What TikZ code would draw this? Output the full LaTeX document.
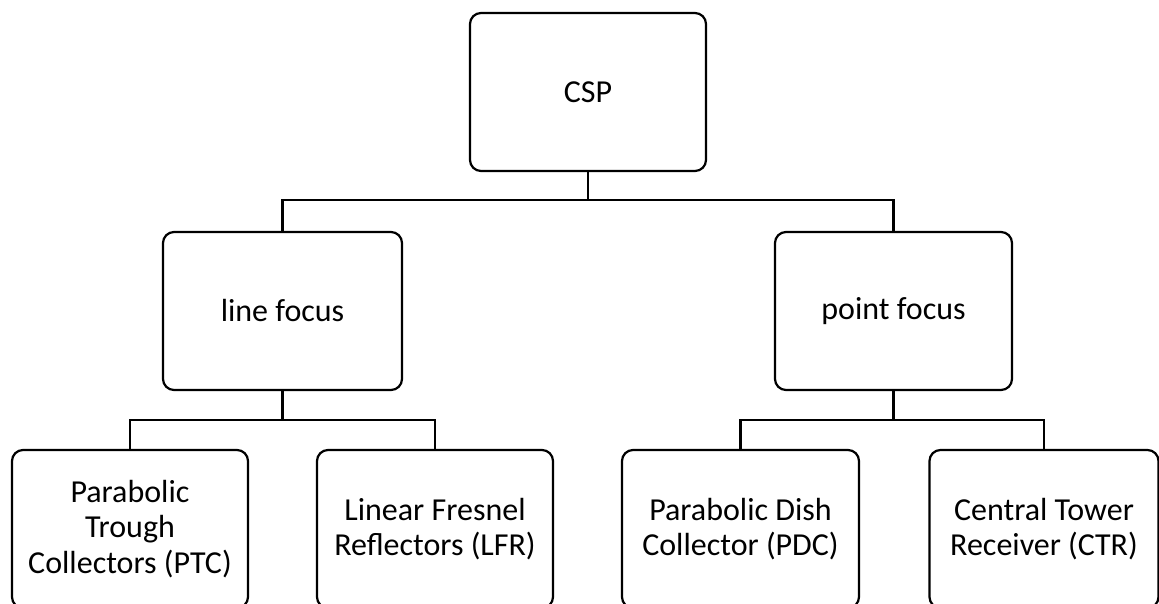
\documentclass[tikz,border=0pt]{standalone}
\usepackage{fontspec}
\setmainfont{Carlito}
\begin{document}
\begin{tikzpicture}[x=1pt,y=-1pt,
  box/.style={draw=black, line width=2.2pt, rounded corners=11pt, fill=white,
    align=center, inner sep=0pt, minimum height=158pt,
    font=\fontsize{32}{35.5}\selectfont},
  conn/.style={draw=black, line width=2.2pt}]
\useasboundingbox (0,0) rectangle (1159,603);
\begin{scope}
\clip (0,0) rectangle (1159,603);
\node[box, minimum width=236pt] (csp) at (588,92) {CSP};
\node[box, minimum width=239pt] (lf) at (282.5,311) {line focus};
\node[box, minimum width=237pt] (pf) at (893.5,311) {point focus};
\node[box, minimum width=236pt] (ptc) at (130,529) {Parabolic\\Trough\\Collectors (PTC)};
\node[box, minimum width=236pt] (lfr) at (435,529) {Linear Fresnel\\Reflectors (LFR)};
\node[box, minimum width=237pt] (pdc) at (740.5,529) {Parabolic Dish\\Collector (PDC)};
\node[box, minimum width=229pt] (ctr) at (1044,529) {Central Tower\\Receiver (CTR)};
\coordinate (j1) at (588,200);
\coordinate (j2) at (282.5,420);
\coordinate (j3) at (893.5,420);
\draw[conn] (csp.south) -- (j1) -| (lf.north);
\draw[conn] (j1) -| (pf.north);
\draw[conn] (lf.south) -- (j2) -| (ptc.north);
\draw[conn] (j2) -| (lfr.north);
\draw[conn] (pf.south) -- (j3) -| (pdc.north);
\draw[conn] (j3) -| (ctr.north);
\end{scope}
\end{tikzpicture}
\end{document}
